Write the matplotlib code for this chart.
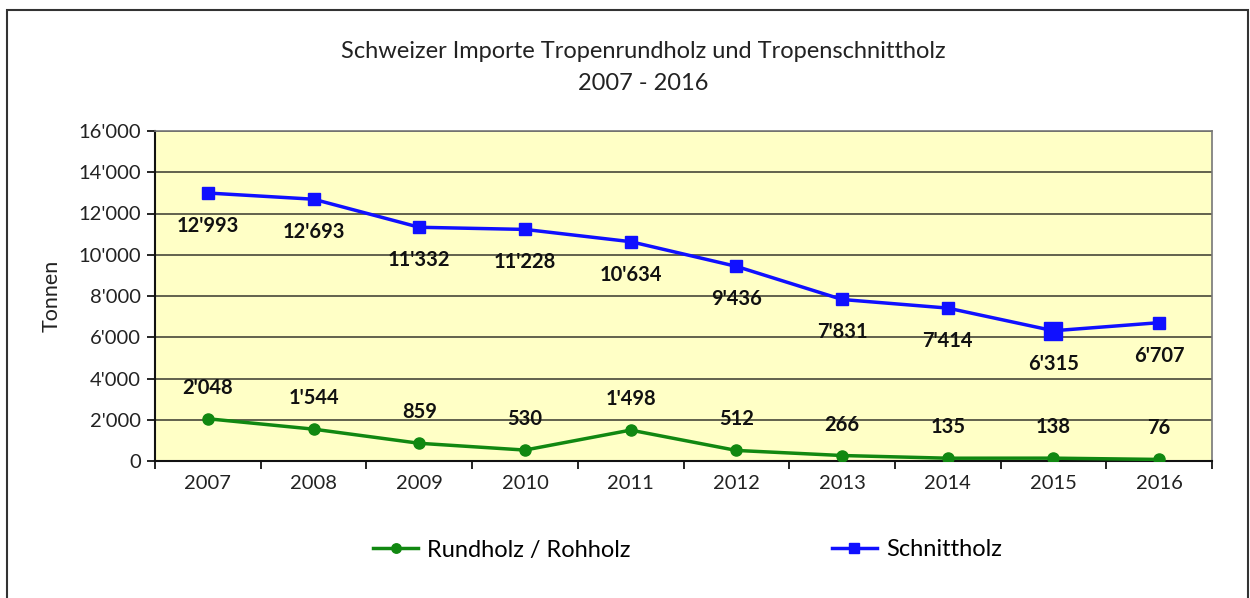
import matplotlib.pyplot as plt
import numpy as np
from matplotlib.patches import Rectangle

years = ["2007", "2008", "2009", "2010", "2011", "2012", "2013", "2014", "2015", "2016"]
rundholz = [2048, 1544, 859, 530, 1498, 512, 266, 135, 138, 76]
schnittholz = [12993, 12693, 11332, 11228, 10634, 9436, 7831, 7414, 6315, 6707]
y_ticks = [0, 2000, 4000, 6000, 8000, 10000, 12000, 14000, 16000]


def swiss(v):
    # thousands separator as apostrophe
    return f"{v:,}".replace(",", "'")


plt.rcParams['font.family'] = ['Lato', 'DejaVu Sans']

fig = plt.figure(figsize=(12.5, 5.98), dpi=100, facecolor='white')
ax = fig.add_axes([155 / 1250, 137 / 598, 1057 / 1250, 330 / 598])
ax.set_facecolor('#FFFFC6')

# outer chart border
fig.patches.append(Rectangle((7 / 1250, -0.01), 1241 / 1250, 1 - 10 / 598 + 0.01,
                             transform=fig.transFigure, fill=False,
                             edgecolor='#333333', linewidth=1.5))

x = np.arange(len(years))

ax.plot(x, rundholz, color='#118811', linewidth=2.5, marker='o', markersize=8,
        label='Rundholz / Rohholz', zorder=3)
ax.plot(x, schnittholz, color='#1010FF', linewidth=2.5, marker='s', markersize=9,
        label='Schnittholz', zorder=3)
# 2015 point is drawn a bit larger in the original
ax.plot(x[8], schnittholz[8], color='#1010FF', marker='s', markersize=13,
        linestyle='none', zorder=4)

for xi, v in zip(x, rundholz):
    ax.annotate(swiss(v), (xi, v), xytext=(0, 31), textcoords='offset pixels',
                ha='center', va='center', fontsize=14.5, fontweight='bold', color='#111111')
for xi, v in zip(x, schnittholz):
    ax.annotate(swiss(v), (xi, v), xytext=(0, -33), textcoords='offset pixels',
                ha='center', va='center', fontsize=14.5, fontweight='bold', color='#111111')

ax.set_xlim(-0.5, len(years) - 0.5)
ax.set_ylim(0, 16000)
ax.set_yticks(y_ticks)
ax.set_yticklabels([swiss(v) for v in y_ticks], fontsize=14.5, color='#222222')
ax.set_xticks(x)
ax.set_xticklabels(years, fontsize=14.5, color='#222222')
ax.set_xticks(np.arange(len(years) + 1) - 0.5, minor=True)
ax.tick_params(axis='x', which='major', length=0, pad=10)
ax.tick_params(axis='x', which='minor', length=6, width=1.2, direction='out')
ax.tick_params(axis='y', length=6, width=1.2, direction='out', pad=4)

ax.grid(axis='y', color='#555544', linewidth=1.3, zorder=1)
ax.set_axisbelow(True)
for side in ['top', 'right']:
    ax.spines[side].set_color('#777777')
    ax.spines[side].set_linewidth(1.2)
for side in ['left', 'bottom']:
    ax.spines[side].set_color('#111111')
    ax.spines[side].set_linewidth(1.5)

ax.set_ylabel('Tonnen', fontsize=15.5, color='#222222', labelpad=12)

fig.text(643 / 1250, 1 - 52 / 598, 'Schweizer Importe Tropenrundholz und Tropenschnittholz',
         ha='center', va='center', fontsize=17, color='#222222')
fig.text(643 / 1250, 1 - 84 / 598, '2007 - 2016', ha='center', va='center',
         fontsize=17, color='#222222')

fig.legend(loc='center', bbox_to_anchor=(0.55, 1 - 550 / 598), ncol=2, frameon=False,
           fontsize=17, columnspacing=8.5, handlelength=1.9, handletextpad=0.4,
           markerscale=0.85)

fig.savefig('out.png', dpi=100, facecolor='white')
